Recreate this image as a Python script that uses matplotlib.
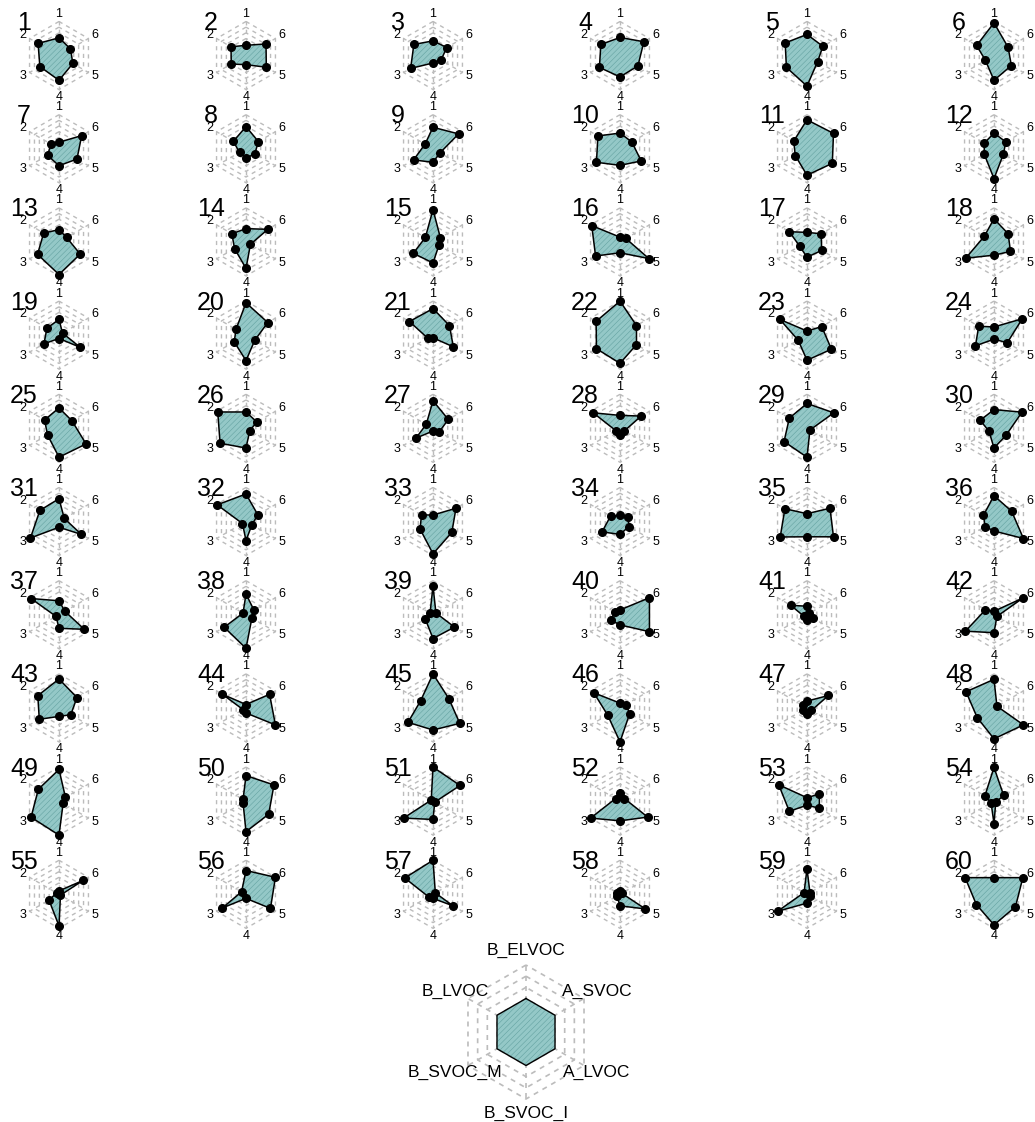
import numpy as np
import matplotlib.pyplot as plt
from matplotlib.patches import Polygon

plt.rcParams['font.family'] = ['Liberation Sans', 'DejaVu Sans']
plt.rcParams['hatch.linewidth'] = 0.4

# axis order: 1 top, then counter-clockwise
axis_names = ['B_ELVOC', 'B_LVOC', 'B_SVOC_M', 'B_SVOC_I', 'A_LVOC', 'A_SVOC']
axis_ticks = ['1', '2', '3', '4', '5', '6']
chart_ids = list(range(1, 61))

# scaled values (0 = centre, 1 = outer ring), one list per variable
b_elvoc = [0.52, 0.30, 0.43, 0.53, 0.62, 0.96,
           0.19, 0.65, 0.63, 0.46, 0.85, 0.46,
           0.36, 0.39, 0.95, 0.14, 0.28, 0.68,
           0.46, 0.95, 0.78, 1.00, 0.12, 0.24,
           0.60, 0.48, 0.81, 0.38, 0.73, 0.55,
           0.67, 0.81, 0.19, 0.18, 0.23, 0.76,
           0.41, 0.61, 0.84, 0.14, 0.25, 0.10,
           0.85, 0.10, 1.00, 0.14, 0.20, 0.84,
           0.93, 0.75, 1.00, 0.25, 0.10, 0.99,
           0.10, 0.70, 1.00, 0.10, 0.75, 0.49]
b_lvoc = [0.71, 0.51, 0.65, 0.65, 0.74, 0.59,
          0.27, 0.43, 0.27, 0.75, 0.45, 0.33,
          0.52, 0.48, 0.26, 0.96, 0.60, 0.33,
          0.41, 0.34, 0.80, 0.81, 0.92, 0.52,
          0.49, 0.96, 0.23, 0.91, 0.60, 0.47,
          0.65, 0.98, 0.39, 0.32, 0.75, 0.36,
          0.95, 0.10, 0.10, 0.17, 0.55, 0.29,
          0.72, 0.80, 0.42, 0.89, 0.15, 0.95,
          0.70, 0.10, 0.06, 0.15, 0.96, 0.31,
          0.08, 0.15, 0.96, 0.10, 0.10, 0.98]
b_svoc_m = [0.65, 0.50, 0.76, 0.70, 0.70, 0.29,
            0.39, 0.22, 0.66, 0.80, 0.40, 0.33,
            0.73, 0.39, 0.67, 0.83, 0.25, 0.96,
            0.51, 0.40, 0.18, 0.80, 0.30, 0.63,
            0.39, 0.88, 0.58, 0.14, 0.78, 0.17,
            0.97, 0.12, 0.44, 0.61, 0.91, 0.30,
            0.10, 0.74, 0.26, 0.31, 0.10, 0.97,
            0.67, 0.10, 0.85, 0.42, 0.12, 0.57,
            0.95, 0.10, 1.00, 1.00, 0.60, 0.10,
            0.34, 0.80, 0.15, 0.10, 1.00, 0.60]
b_svoc_i = [0.73, 0.27, 0.22, 0.63, 0.90, 0.73,
            0.50, 0.28, 0.40, 0.49, 0.78, 0.88,
            0.96, 0.78, 0.62, 0.32, 0.45, 0.39,
            0.10, 0.75, 0.08, 0.83, 0.74, 0.12,
            0.85, 0.58, 0.08, 0.19, 0.85, 0.58,
            0.17, 0.56, 0.95, 0.38, 0.45, 0.28,
            0.40, 0.99, 0.70, 0.30, 0.16, 0.53,
            0.25, 0.15, 0.65, 1.00, 0.18, 0.91,
            1.00, 0.90, 0.54, 0.58, 0.12, 0.66,
            0.93, 0.12, 0.12, 0.34, 0.26, 0.90]
a_lvoc = [0.47, 0.69, 0.27, 0.61, 0.36, 0.59,
          0.61, 0.30, 0.24, 0.72, 0.86, 0.32,
          0.72, 0.15, 0.20, 0.98, 0.50, 0.56,
          0.72, 0.30, 0.69, 0.56, 0.83, 0.45,
          0.92, 0.13, 0.21, 0.15, 0.10, 0.41,
          0.76, 0.20, 0.64, 0.30, 0.90, 1.00,
          0.86, 0.20, 0.73, 1.00, 0.21, 0.10,
          0.40, 1.00, 0.91, 0.33, 0.15, 1.00,
          0.14, 0.77, 0.06, 0.94, 0.42, 0.06,
          0.05, 0.83, 0.68, 0.86, 0.10, 0.73]
a_svoc = [0.39, 0.68, 0.47, 0.81, 0.54, 0.48,
          0.77, 0.42, 0.87, 0.40, 0.90, 0.40,
          0.26, 0.74, 0.25, 0.20, 0.48, 0.48,
          0.12, 0.74, 0.56, 0.56, 0.50, 0.96,
          0.44, 0.37, 0.52, 0.72, 0.91, 0.95,
          0.18, 0.40, 0.78, 0.28, 0.78, 0.60,
          0.20, 0.27, 0.10, 1.00, 0.08, 1.00,
          0.61, 0.80, 0.54, 0.20, 0.73, 0.10,
          0.22, 0.95, 0.92, 0.15, 0.42, 0.33,
          0.82, 1.00, 0.08, 0.06, 0.10, 0.98]
legend_vals = [0.5, 0.5, 0.5, 0.5, 0.5, 0.5]

grid_col = '#bcbcbc'
fill_col = '#94c8c7'
hatch_col = '#64a2a1'
SEG = 5

W, H = 1035, 1122
fig = plt.figure(figsize=(W / 100, H / 100), dpi=100)

ang = np.pi / 2 + np.arange(6) * np.pi / 3
ux, uy = np.cos(ang), np.sin(ang)


def make_ax(cx, cy, r, lim=1.6):
    s = r * lim
    ax = fig.add_axes([(cx - s) / W, (H - cy - s) / H, 2 * s / W, 2 * s / H])
    ax.set_xlim(-lim, lim)
    ax.set_ylim(-lim, lim)
    ax.set_axis_off()
    return ax


def radar(ax, vals, labels, fs, points=True, lw=1.1, glw=1.0):
    for k in range(1, SEG + 2):
        f = k / (SEG + 1)
        ax.plot(np.append(ux, ux[0]) * f, np.append(uy, uy[0]) * f,
                color=grid_col, lw=glw, ls=(0, (3, 3)), zorder=1)
    for i in range(6):
        ax.plot([ux[i] / (SEG + 1), ux[i]], [uy[i] / (SEG + 1), uy[i]],
                color=grid_col, lw=glw, ls=(0, (3, 3)), zorder=1)
    v = np.array(vals)
    xy = np.column_stack([ux * v, uy * v])
    ax.add_patch(Polygon(xy, closed=True, fc=fill_col, ec='none', zorder=2))
    ax.add_patch(Polygon(xy, closed=True, fill=False, hatch='//////',
                         ec=hatch_col, lw=0, zorder=3))
    ax.plot(np.append(xy[:, 0], xy[0, 0]), np.append(xy[:, 1], xy[0, 1]),
            color='black', lw=lw, zorder=4)
    if points:
        ax.plot(xy[:, 0], xy[:, 1], 'o', color='black', ms=5.5, zorder=5)
    for i in range(6):
        ax.text(ux[i] * 1.22, uy[i] * 1.22, labels[i], ha='center',
                va='center', fontsize=fs, zorder=6)


R = 34
for n in chart_ids:
    idx = n - 1
    row, col = divmod(idx, 6)
    cx = 59 + 187 * col
    cy = 55.5 + 93.2 * row
    ax = make_ax(cx, cy, R)
    vals = [b_elvoc[idx], b_lvoc[idx], b_svoc_m[idx],
            b_svoc_i[idx], a_lvoc[idx], a_svoc[idx]]
    radar(ax, vals, axis_ticks, 9)
    ax.text(-35 / R, 25.5 / R, str(n), ha='center', va='baseline', fontsize=18)

# legend radar
lax = make_ax(526, 1032, 67)
radar(lax, legend_vals, axis_names, 12.5, points=False, lw=1.0, glw=1.2)

fig.savefig('out.png', dpi=100)
